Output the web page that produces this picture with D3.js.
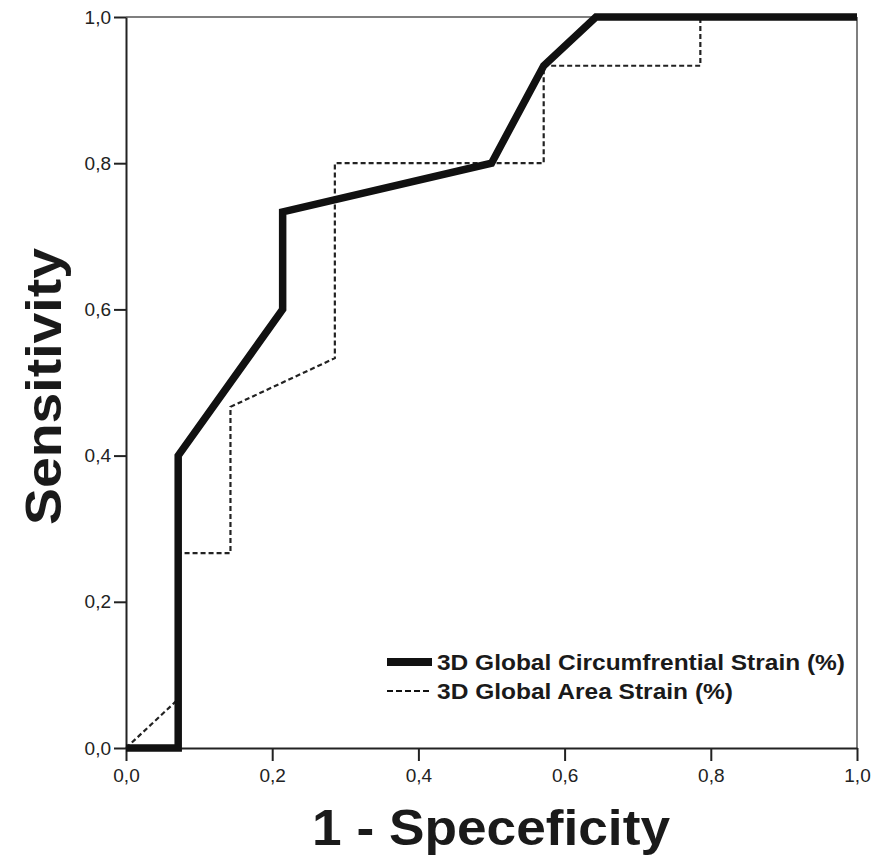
<!DOCTYPE html>
<meta charset="utf-8">
<style>
body { margin: 0; background: #fff; }
.axis text { font-family: "Liberation Sans", Arial, sans-serif; font-size: 19px; fill: #222; }
.axis path, .axis line { stroke: #222; stroke-width: 2; }
.title { font-family: "Liberation Sans", Arial, sans-serif; font-weight: bold; font-size: 50px; fill: #1a1a1a; }
.legend text { font-family: "Liberation Sans", Arial, sans-serif; font-weight: bold; font-size: 22px; fill: #1a1a1a; }
</style>
<svg width="874" height="861"></svg>
<script src="https://cdn.jsdelivr.net/npm/d3@7"></script>
<script>

// ROC points, 1 - specificity (x) and sensitivity (y)
var circX = [0, 0.0714, 0.0714, 0.2143, 0.2143, 0.5, 0.5714, 0.6429, 1];
var circY = [0, 0, 0.4, 0.6, 0.7333, 0.8, 0.9333, 1, 1];

var areaX = [0, 0.0714, 0.0714, 0.1429, 0.1429, 0.2857, 0.2857, 0.5714, 0.5714, 0.7857, 0.7857, 1];
var areaY = [0, 0.0667, 0.2667, 0.2667, 0.4667, 0.5333, 0.8, 0.8, 0.9333, 0.9333, 1, 1];

var ticks = [0, 0.2, 0.4, 0.6, 0.8, 1];
var seriesNames = ["3D Global Circumfrential Strain (%)", "3D Global Area Strain (%)"];

var svg = d3.select("svg");

var x = d3.scaleLinear().domain([0, 1]).range([126, 857]);
var y = d3.scaleLinear().domain([0, 1]).range([748, 17]);

var fmt = function(d) { return d3.format(".1f")(d).replace(".", ","); };

// frame top / right
svg.append("line")
    .attr("x1", x(0)).attr("x2", x(1)).attr("y1", y(1)).attr("y2", y(1))
    .attr("stroke", "#555").attr("stroke-width", 1.5);
svg.append("line")
    .attr("x1", x(1)).attr("x2", x(1)).attr("y1", y(1)).attr("y2", y(0))
    .attr("stroke", "#555").attr("stroke-width", 1.5);

svg.append("g")
    .attr("class", "axis")
    .attr("transform", "translate(0," + y(0) + ")")
    .call(d3.axisBottom(x).tickValues(ticks).tickFormat(fmt).tickSize(13).tickSizeOuter(0).tickPadding(8));

svg.append("g")
    .attr("class", "axis")
    .attr("transform", "translate(" + x(0) + ",0)")
    .call(d3.axisLeft(y).tickValues(ticks).tickFormat(fmt).tickSize(12).tickSizeOuter(0).tickPadding(3));

var line = d3.line()
    .x(function(d) { return x(d[0]); })
    .y(function(d) { return y(d[1]); });

svg.append("path")
    .datum(d3.zip(areaX, areaY))
    .attr("fill", "none")
    .attr("stroke", "#222")
    .attr("stroke-width", 2.2)
    .attr("stroke-dasharray", "5,3")
    .attr("d", line);

svg.append("path")
    .datum(d3.zip(circX, circY))
    .attr("fill", "none")
    .attr("stroke", "#111")
    .attr("stroke-width", 7.5)
    .attr("stroke-linejoin", "miter")
    .attr("d", line);

// axis titles
svg.append("text")
    .attr("class", "title")
    .attr("x", 312)
    .attr("y", 845)
    .attr("textLength", 358)
    .attr("lengthAdjust", "spacingAndGlyphs")
    .text("1 - Speceficity");

svg.append("text")
    .attr("class", "title")
    .attr("transform", "translate(61,525) rotate(-90)")
    .attr("textLength", 277)
    .attr("lengthAdjust", "spacingAndGlyphs")
    .text("Sensitivity");

// legend
var lg = svg.append("g").attr("class", "legend");
var rows = [
  { name: seriesNames[0], w: 8, dash: null, len: 408 },
  { name: seriesNames[1], w: 2.2, dash: "6,3", len: 296 }
];
rows.forEach(function(r, i) {
  var yy = 662 + i * 29;
  lg.append("line")
      .attr("x1", 387).attr("x2", 432).attr("y1", yy).attr("y2", yy)
      .attr("stroke", "#111").attr("stroke-width", r.w)
      .attr("stroke-dasharray", r.dash);
  lg.append("text")
      .attr("x", 437).attr("y", yy + 8)
      .attr("textLength", r.len)
      .attr("lengthAdjust", "spacingAndGlyphs")
      .text(r.name);
});

</script>
